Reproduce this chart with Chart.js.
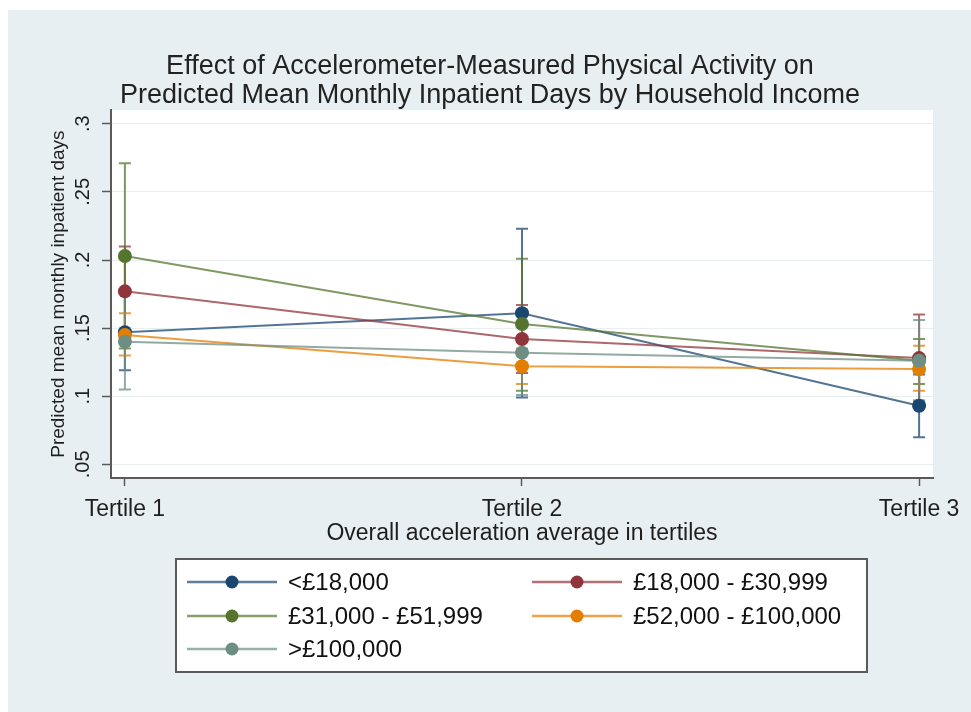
<!DOCTYPE html>
<html>
<head>
<meta charset="utf-8">
<title>Inpatient days by household income</title>
<script src="https://cdn.jsdelivr.net/npm/chart.js@4.4.1/dist/chart.umd.min.js"></script>
<style>
  html, body { margin: 0; padding: 0; background: #ffffff; }
  #c { display: block; }
</style>
</head>
<body>
<canvas id="c" width="971" height="712"></canvas>
<script>
// Categories on the x axis (tertiles of overall acceleration)
const categories = ['Tertile 1', 'Tertile 2', 'Tertile 3'];

// Y axis ticks, Stata-style labels without leading zero
const yTickValues = [0.05, 0.10, 0.15, 0.20, 0.25, 0.30];
const yTickLabels = ['.05', '.1', '.15', '.2', '.25', '.3'];

// Income groups
const seriesNames = ['<£18,000', '£18,000 - £30,999', '£31,000 - £51,999', '£52,000 - £100,000', '>£100,000'];

// Predicted mean monthly inpatient days, with 95% CI, per income group
const under18kMean  = [0.147, 0.161, 0.093];
const under18kLow   = [0.119, 0.099, 0.070];
const under18kHigh  = [0.175, 0.223, 0.116];

const from18kMean   = [0.177, 0.142, 0.128];
const from18kLow    = [0.144, 0.117, 0.096];
const from18kHigh   = [0.210, 0.167, 0.160];

const from31kMean   = [0.203, 0.153, 0.126];
const from31kLow    = [0.135, 0.104, 0.109];
const from31kHigh   = [0.271, 0.201, 0.142];

const from52kMean   = [0.145, 0.122, 0.120];
const from52kLow    = [0.130, 0.109, 0.104];
const from52kHigh   = [0.161, 0.135, 0.137];

const over100kMean  = [0.140, 0.132, 0.126];
const over100kLow   = [0.105, 0.101, 0.097];
const over100kHigh  = [0.175, 0.163, 0.156];

const seriesMeans = [under18kMean, from18kMean, from31kMean, from52kMean, over100kMean];
const seriesLows  = [under18kLow, from18kLow, from31kLow, from52kLow, over100kLow];
const seriesHighs = [under18kHigh, from18kHigh, from31kHigh, from52kHigh, over100kHigh];

// Stata s2color palette: navy, maroon, forest green, dark orange, teal
const seriesColors = ['#1a476f', '#90353b', '#55752f', '#e37e00', '#6e8e84'];

const FONT = "'Liberation Sans', Arial, Helvetica, sans-serif";
Chart.defaults.font.family = FONT;
Chart.defaults.color = '#1e1e1e';

function withAlpha(hex, a) {
  const n = parseInt(hex.slice(1), 16);
  return `rgba(${(n >> 16) & 255}, ${(n >> 8) & 255}, ${n & 255}, ${a})`;
}

// Page backdrop and white plot region
const backdrop = {
  id: 'backdrop',
  beforeDraw(chart) {
    const { ctx, width, height, chartArea: a } = chart;
    ctx.save();
    ctx.fillStyle = '#ffffff';
    ctx.fillRect(0, 0, width, height);
    ctx.fillStyle = '#e8eff3';
    ctx.fillRect(8, 10, width - 8, height - 10);
    ctx.fillStyle = '#ffffff';
    ctx.fillRect(a.left, a.top, a.right - a.left, a.bottom - a.top);
    ctx.restore();
  }
};

// Capped confidence-interval spikes, drawn beneath the lines and markers
const ciCaps = {
  id: 'ciCaps',
  beforeDatasetsDraw(chart) {
    const { ctx, scales: { x, y } } = chart;
    ctx.save();
    ctx.lineWidth = 2;
    seriesLows.forEach((lows, s) => {
      ctx.strokeStyle = withAlpha(seriesColors[s], 0.75);
      lows.forEach((lo, i) => {
        const px = x.getPixelForValue(i);
        const y1 = y.getPixelForValue(lo);
        const y2 = y.getPixelForValue(seriesHighs[s][i]);
        ctx.beginPath();
        ctx.moveTo(px, y1); ctx.lineTo(px, y2);
        ctx.moveTo(px - 6, y1); ctx.lineTo(px + 6, y1);
        ctx.moveTo(px - 6, y2); ctx.lineTo(px + 6, y2);
        ctx.stroke();
      });
    });
    ctx.restore();
  }
};

// Two-column boxed key below the plot
const keyBox = {
  id: 'keyBox',
  afterDraw(chart) {
    const { ctx } = chart;
    const box = { left: 176, top: 559, right: 867, bottom: 672 };
    const cols = [187, 532];
    const rows = [582, 616, 649];
    ctx.save();
    ctx.fillStyle = '#ffffff';
    ctx.fillRect(box.left, box.top, box.right - box.left, box.bottom - box.top);
    ctx.strokeStyle = '#5a5a5a';
    ctx.lineWidth = 2;
    ctx.strokeRect(box.left, box.top, box.right - box.left, box.bottom - box.top);
    ctx.font = `24px ${FONT}`;
    ctx.textBaseline = 'middle';
    ctx.textAlign = 'left';
    seriesNames.forEach((name, s) => {
      const cx = cols[s % 2];
      const cy = rows[Math.floor(s / 2)];
      ctx.strokeStyle = withAlpha(seriesColors[s], 0.7);
      ctx.lineWidth = 2.5;
      ctx.beginPath();
      ctx.moveTo(cx, cy); ctx.lineTo(cx + 90, cy);
      ctx.stroke();
      ctx.fillStyle = seriesColors[s];
      ctx.beginPath();
      ctx.arc(cx + 45, cy, 6.5, 0, Math.PI * 2);
      ctx.fill();
      ctx.fillStyle = '#111111';
      ctx.fillText(name, cx + 101, cy + 1);
    });
    ctx.restore();
  }
};

const datasets = seriesNames.map((name, s) => ({
  label: name,
  data: seriesMeans[s].map((v, i) => ({ x: i, y: v })),
  borderColor: withAlpha(seriesColors[s], 0.75),
  borderWidth: 2,
  backgroundColor: seriesColors[s],
  pointBackgroundColor: seriesColors[s],
  pointBorderColor: seriesColors[s],
  pointBorderWidth: 0,
  pointRadius: 7,
  tension: 0,
  fill: false,
  order: seriesNames.length - s
}));

new Chart(document.getElementById('c'), {
  type: 'line',
  data: { datasets },
  plugins: [backdrop, ciCaps, keyBox],
  options: {
    responsive: false,
    animation: false,
    events: [],
    devicePixelRatio: 1,
    layout: { padding: { left: 47, right: 38, top: 0, bottom: 164 } },
    plugins: {
      legend: { display: false },
      tooltip: { enabled: false },
      title: {
        display: true,
        text: ['Effect of Accelerometer-Measured Physical Activity on',
               'Predicted Mean Monthly Inpatient Days by Household Income'],
        font: { size: 27, weight: 'normal', lineHeight: 1.04 },
        color: '#222222',
        padding: { top: 53, bottom: 1 }
      }
    },
    scales: {
      x: {
        type: 'linear',
        min: -0.035,
        max: 2.035,
        afterBuildTicks: s => { s.ticks = categories.map((_, i) => ({ value: i })); },
        afterFit: s => { s.height = 70; },
        ticks: {
          callback: (v, i) => categories[i],
          maxRotation: 0,
          autoSkip: false,
          padding: 10,
          color: '#1e1e1e',
          font: { size: 23 }
        },
        grid: { drawOnChartArea: false, tickLength: 8, tickColor: '#5a5a5a', tickWidth: 1.5 },
        border: { color: '#5a5a5a', width: 2 },
        title: {
          display: true,
          text: 'Overall acceleration average in tertiles',
          font: { size: 23 },
          color: '#1e1e1e',
          padding: { top: 0, bottom: 1 }
        }
      },
      y: {
        type: 'linear',
        min: 0.04,
        max: 0.31,
        afterBuildTicks: s => { s.ticks = yTickValues.map(v => ({ value: v })); },
        afterFit: s => { s.width = 64; },
        ticks: {
          callback: (v, i) => yTickLabels[i],
          minRotation: 90,
          maxRotation: 90,
          crossAlign: 'center',
          autoSkip: false,
          padding: 5,
          color: '#1e1e1e',
          font: { size: 20 }
        },
        grid: { color: '#e9eef1', lineWidth: 1, tickLength: 9, tickColor: '#5a5a5a', tickWidth: 1.5 },
        border: { color: '#5a5a5a', width: 2 },
        title: {
          display: true,
          text: 'Predicted mean monthly inpatient days',
          font: { size: 19 },
          color: '#1e1e1e',
          padding: { top: 0, bottom: 0 }
        }
      }
    }
  }
});
</script>
</body>
</html>
